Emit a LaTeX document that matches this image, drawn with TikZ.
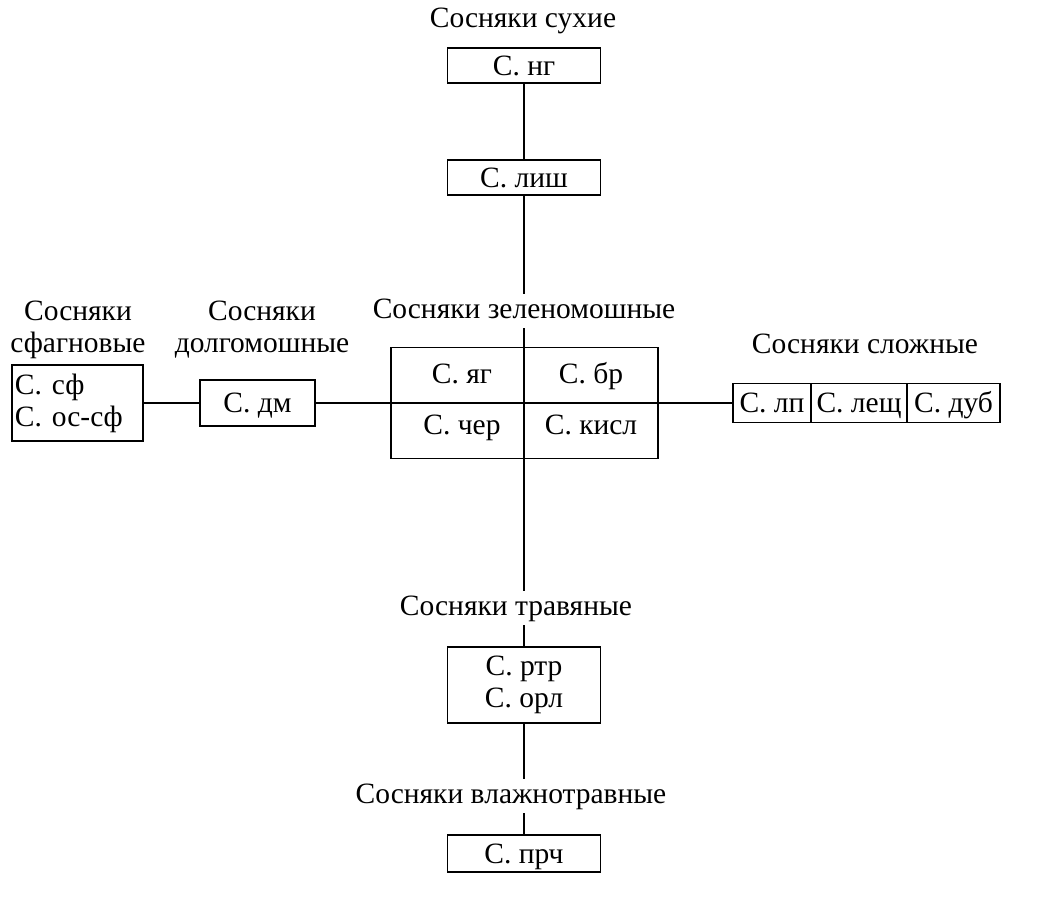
\documentclass[tikz,border=0pt]{standalone}
\usepackage{fontspec}
\setmainfont{Liberation Serif}
\begin{document}
\begin{tikzpicture}[x=1pt,y=-1pt,
  every node/.style={font=\fontsize{29.5}{32}\selectfont, inner sep=0pt, text height=19.5pt, text depth=0pt},
  multi/.style={text height=, text depth=},
  box/.style={draw, line width=1.6pt, minimum width=153pt, minimum height=35pt},
  cell/.style={draw, line width=1.6pt, minimum height=39pt},
  lab/.style={align=center, anchor=base, text depth=6pt, inner ysep=4pt},
  conn/.style={line width=1.6pt}]
\useasboundingbox (0,0) rectangle (1045,924);
% vertical chain
\node[lab] (suh) at (523,27) {Сосняки сухие};
\node[box] (ng) at (524,65.5) {С. нг};
\node[box] (lish) at (524,177.5) {С. лиш};
\node[lab] (zlab) at (524,318) {Сосняки зеленомошные};
\node[draw, line width=1.6pt, minimum width=267pt, minimum height=111pt] (zel) at (524.5,403) {};
\node[anchor=base] (yag) at (462,383) {С. яг};
\node[anchor=base] (br) at (591,383) {С. бр};
\node[anchor=base] (cher) at (462,434) {С. чер};
\node[anchor=base] (kisl) at (591,434) {С. кисл};
\node[lab] (trlab) at (516,615) {Сосняки травяные};
\node[box, multi, minimum height=76pt, align=center] (rtr) at (524,685) {С. ртр\\С. орл};
\node[lab] (vlab) at (511,803) {Сосняки влажнотравные};
\node[box, minimum height=37pt] (prch) at (524,853.5) {С. прч};
% horizontal chain
\node[lab, multi] (sflab) at (78,352) {Сосняки\\сфагновые};
\node[draw, multi, line width=1.6pt, minimum width=131pt, minimum height=76pt, align=left, text width=125pt] (sf) at (77.5,403) {С. сф\\С. ос-сф};
\node[lab, multi] (dmlab) at (262,352) {Сосняки\\долгомошные};
\node[box, minimum width=115pt, minimum height=46pt] (dm) at (257.5,403) {С. дм};
\node[lab] (sllab) at (865,353) {Сосняки сложные};
\node[cell, minimum width=78pt] (lp) at (772,403) {С. лп};
\node[cell, minimum width=96pt] (lesch) at (859,403) {С. лещ};
\node[cell, minimum width=93pt] (dub) at (953.5,403) {С. дуб};
% connectors
\draw[conn] (ng.south) -- (lish.north);
\draw[conn] (lish.south) -- (lish.south |- zlab.north);
\draw[conn] (zlab.south -| lish.south) -- (trlab.north -| lish.south);
\draw[conn] (trlab.south -| rtr.north) -- (rtr.north);
\draw[conn] (rtr.south) -- (vlab.north -| rtr.south);
\draw[conn] (vlab.south -| prch.north) -- (prch.north);
\draw[conn] (sf.east) -- (dm.west);
\draw[conn] (dm.east) -- (lp.west);
\end{tikzpicture}
\end{document}
